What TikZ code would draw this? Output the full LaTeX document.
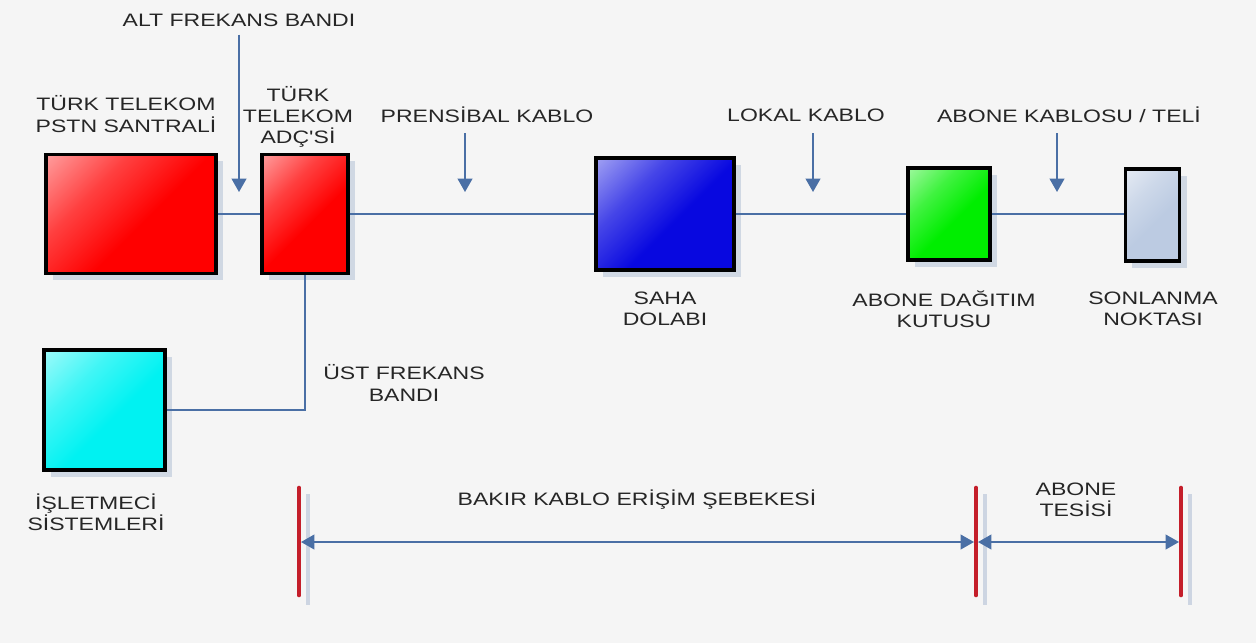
\documentclass[tikz,border=0pt]{standalone}
\usepackage{fontspec}
\setmainfont{Liberation Sans}
\newfontfamily\lblfont[FakeStretch=1.28]{Liberation Sans}
\usetikzlibrary{arrows.meta, shadows}
\definecolor{bgcol}{HTML}{F5F5F5}
\definecolor{wirecol}{HTML}{4A6FA5}
\definecolor{txtcol}{HTML}{262626}
\definecolor{barcol}{HTML}{C41E2A}
\definecolor{shadecol}{HTML}{CDD5E2}
\definecolor{pstnred}{HTML}{FF0000}
\definecolor{sahablue}{HTML}{0808E0}
\definecolor{dagitgreen}{HTML}{00EE00}
\definecolor{islcyan}{HTML}{00F2F2}
\definecolor{songrey}{HTML}{BCCBE2}
\colorlet{boxc}{red}
\pgfdeclareverticalshading[boxc]{boxshade}{100bp}{color(0bp)=(boxc); color(45bp)=(boxc); color(65bp)=(boxc!75!white); color(100bp)=(boxc!12!white)}

\begin{document}
\begin{tikzpicture}[x=0.75pt,y=0.75pt,yscale=-1,xscale=1,
    lbl/.style={font=\lblfont\fontsize{13.5}{16}\selectfont, text=txtcol, align=center, inner sep=0pt},
    box/.style={/utils/exec={\colorlet{boxc}{#1}}, draw=black, line width=2.3pt, shading=boxshade, shading angle=45,
        drop shadow={shadow xshift=5pt, shadow yshift=-5pt, fill=shadecol, opacity=0.9}},
    wire/.style={draw=wirecol, line width=1.4pt},
    arr/.style={wire, -{Triangle[width=11pt,length=10pt]}},
    dblarr/.style={wire, {Triangle[width=11pt,length=10pt]}-{Triangle[width=11pt,length=10pt]}},
    limit/.style={draw=barcol, line width=3.5pt, line cap=round},
    limitshade/.style={draw=shadecol, line width=2.5pt}]

%background
\fill[bgcol] (0,0) rectangle (1256,643);
\useasboundingbox (0,0) rectangle (1256,643);

%boxes
\node[box=pstnred, minimum width=127.5pt, minimum height=89pt] (pstn) at (131,214) {};
\node[box=pstnred, minimum width=64.5pt, minimum height=89pt] (adc) at (305,214) {};
\node[box=sahablue, minimum width=103.5pt, minimum height=84pt] (saha) at (665,214) {};
\node[box=dagitgreen, minimum width=61.5pt, minimum height=69pt] (dagit) at (949,214) {};
\node[box=songrey, minimum width=41pt, minimum height=69pt] (sonlan) at (1152.5,215) {};
\node[box=islcyan, minimum width=90.75pt, minimum height=90pt] (islet) at (104.5,410) {};

%lines between boxes
\draw[wire] (pstn.east) -- (adc.west);
\draw[wire] (adc.east) -- (saha.west);
\draw[wire] (saha.east) -- (dagit.west);
\draw[wire] (dagit.east) -- (sonlan.west |- dagit.east);
\draw[wire] (adc.south) |- (islet.east);

%labels
\node[lbl] (lalt) at (239,20) {ALT FREKANS BANDI};
\node[lbl] (lpstn) at (126,114) {TÜRK TELEKOM\\PSTN SANTRALİ};
\node[lbl] (ladc) at (298,117) {TÜRK\\TELEKOM\\ADÇ'Sİ};
\node[lbl] (lpren) at (487,115) {PRENSİBAL KABLO};
\node[lbl] (llokal) at (806,115) {LOKAL KABLO};
\node[lbl] (labkab) at (1069,115) {ABONE KABLOSU / TELİ};
\node[lbl] (lsaha) at (665,309) {SAHA\\DOLABI};
\node[lbl] (ldagit) at (944,309) {ABONE DAĞITIM\\KUTUSU};
\node[lbl] (lsonlan) at (1153,309) {SONLANMA\\NOKTASI};
\node[lbl] (lust) at (404,383) {ÜST FREKANS\\BANDI};
\node[lbl] (lislet) at (96,512) {İŞLETMECİ\\SİSTEMLERİ};
\node[lbl] (lbakir) at (637,500) {BAKIR KABLO ERİŞİM ŞEBEKESİ};
\node[lbl] (ltesis) at (1076,500) {ABONE\\TESİSİ};

%pointer arrows
\coordinate (altend) at (239,192);
\coordinate (prentop) at (465,133);
\coordinate (prenend) at (465,192);
\coordinate (lokaltop) at (813,133);
\coordinate (lokalend) at (813,192);
\coordinate (abktop) at (1057,133);
\coordinate (abkend) at (1057,192);
\draw[arr] (lalt.south) ++(0,8) -- (altend);
\draw[arr] (prentop) -- (prenend);
\draw[arr] (lokaltop) -- (lokalend);
\draw[arr] (abktop) -- (abkend);

%limits
\coordinate (b1top) at (299,488);
\coordinate (b1bot) at (299,595);
\coordinate (b2top) at (976,488);
\coordinate (b2bot) at (976,595);
\coordinate (b3top) at (1181,488);
\coordinate (b3bot) at (1181,595);
\foreach \b in {b1,b2,b3} {
    \draw[limitshade] ([shift={(9,6)}]\b top) -- ([shift={(9,10)}]\b bot);
    \draw[limit] (\b top) -- (\b bot);
}

%spans
\coordinate (s1) at (301,542);
\coordinate (s2) at (974,542);
\coordinate (s3) at (978,542);
\coordinate (s4) at (1179,542);
\draw[dblarr] (s1) -- (s2);
\draw[dblarr] (s3) -- (s4);

\end{tikzpicture}
\end{document}
